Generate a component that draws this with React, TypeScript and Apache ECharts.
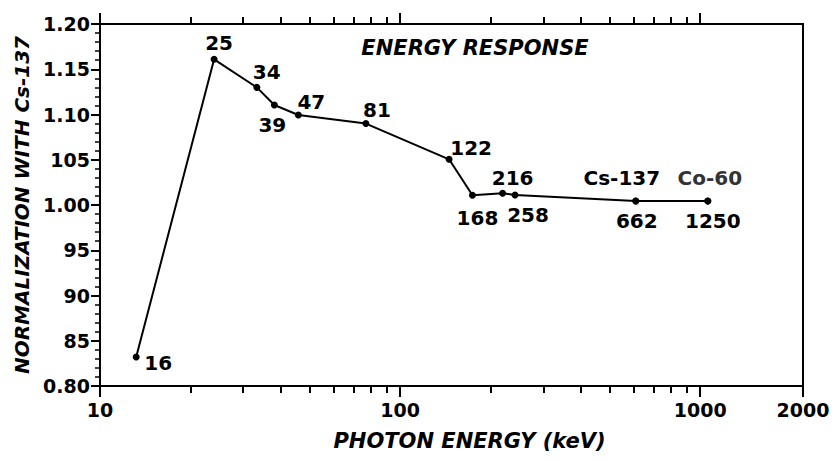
import React, { useEffect, useRef } from 'react';
import * as echarts from 'echarts';

// Photon energy positions (keV) as plotted, and normalized response
const energies = [13.2, 24.0, 33.3, 38.1, 45.8, 76.9, 145.6, 174.2, 219.5, 241.5, 610, 1060];
const responses = [0.832, 1.161, 1.13, 1.1105, 1.0995, 1.09, 1.0505, 1.0107, 1.0129, 1.011, 1.0044, 1.0044];
const pointLabels = ['16', '25', '34', '39', '47', '81', '122', '168', '216', '258', '662', '1250'];
const sourceLabels = ['', '', '', '', '', '', '', '', '', '', 'Cs-137', 'Co-60'];
const sourceColors = ['#000', '#000', '#000', '#000', '#000', '#000', '#000', '#000', '#000', '#000', '#000', '#333'];

const xMin = 10;
const xMax = 2200;
const xMajorTicks = [10, 100, 1000, 2200];
const xTickLabels = ['10', '100', '1000', '2000'];
const xMinorTicks = [20, 30, 40, 50, 60, 70, 80, 90, 200, 300, 400, 500, 600, 700, 800, 900];
const yTickLabels = ['0.80', '85', '90', '95', '1.00', '105', '1.10', '1.15', '1.20'];
const yMinorTicks = [
  0.81, 0.82, 0.83, 0.84, 0.86, 0.87, 0.88, 0.89, 0.91, 0.92, 0.93, 0.94, 0.96, 0.97, 0.98, 0.99,
  1.01, 1.02, 1.03, 1.04, 1.06, 1.07, 1.08, 1.09, 1.11, 1.12, 1.13, 1.14, 1.16, 1.17, 1.18, 1.19,
];

const titleText = 'ENERGY RESPONSE';
const xName = 'PHOTON ENERGY (keV)';
const yName = 'NORMALIZATION WITH Cs-137';

// label placement (style only)
const labelOffsets: [number, number][] = [
  [22, 6], [5, -16], [10, -15], [-2, 20], [13, -13], [11, -14],
  [22, -11], [5, 23], [10, -15], [13, 20], [1, 20], [5, 20],
];
const sourceOffsets: [number, number][] = [
  [0, 0], [0, 0], [0, 0], [0, 0], [0, 0], [0, 0], [0, 0], [0, 0], [0, 0], [0, 0], [-14, -23], [2, -23],
];

const FONT = '"DejaVu Sans", "Liberation Sans", Arial, sans-serif';
const BLACK = '#000';
const LBL = 20;

function nearestIdx(ticks: number[], v: number) {
  let best = 0;
  let bd = Infinity;
  ticks.forEach((t, i) => {
    const d = Math.abs(Math.log10(t) - Math.log10(v));
    if (d < bd) { bd = d; best = i; }
  });
  return best;
}

// tick-only axis in log10 space (same extent as the log data axis)
function tickAxis(position: 'top' | 'bottom', values: number[], length: number) {
  return {
    type: 'value', gridIndex: 0, position,
    min: Math.log10(xMin), max: Math.log10(xMax),
    splitLine: { show: false },
    axisLine: { show: false },
    axisLabel: { show: false },
    axisTick: {
      show: true, inside: false, length,
      customValues: values.map((v) => Math.log10(v)),
      lineStyle: { color: BLACK, width: 2 },
    },
  };
}

export default function App() {
  const ref = useRef<HTMLDivElement>(null);
  useEffect(() => {
    document.body.style.margin = '0';
    if (!ref.current) return;
    const chart = echarts.init(ref.current, undefined, { renderer: 'svg' });

    const option: any = {
      animation: false,
      backgroundColor: '#fff',
      grid: {
        left: 100, right: 32, top: 24, bottom: 75,
        show: true, borderColor: BLACK, borderWidth: 2, backgroundColor: 'transparent',
      },
      graphic: [
        {
          type: 'text', x: 475, y: 48,
          style: {
            text: titleText, fill: BLACK,
            fontFamily: FONT, fontWeight: 'bold', fontStyle: 'italic', fontSize: 21,
            align: 'center', verticalAlign: 'middle',
            textAlign: 'center', textVerticalAlign: 'middle',
          },
        },
      ],
      xAxis: [
        {
          type: 'log', logBase: 10, min: xMin, max: xMax, gridIndex: 0, position: 'bottom',
          splitLine: { show: false },
          axisLine: { show: true, lineStyle: { color: BLACK, width: 2 } },
          axisTick: { show: false },
          axisLabel: {
            show: true, customValues: xMajorTicks, margin: 14,
            formatter: (v: number) => xTickLabels[nearestIdx(xMajorTicks, v)],
            color: BLACK, fontFamily: FONT, fontWeight: 'bold', fontSize: 19,
          },
          name: xName, nameLocation: 'middle', nameGap: 44,
          nameTextStyle: {
            color: BLACK, fontFamily: FONT, fontWeight: 'bold', fontStyle: 'italic', fontSize: 21,
            padding: [0, 0, 0, 36],
          },
        },
        tickAxis('bottom', xMajorTicks, 11),
        tickAxis('bottom', xMinorTicks, 7),
        tickAxis('top', xMajorTicks.slice(0, 3), 11),
        tickAxis('top', xMinorTicks, 7),
      ],
      yAxis: [
        {
          type: 'value', min: 0.8, max: 1.2, interval: 0.05, position: 'left',
          splitLine: { show: false },
          axisLine: { show: true, lineStyle: { color: BLACK, width: 2 } },
          axisTick: { show: true, length: 9, lineStyle: { color: BLACK, width: 2 } },
          axisLabel: {
            margin: 10,
            formatter: (v: number) => yTickLabels[Math.round((v - 0.8) / 0.05)],
            color: BLACK, fontFamily: FONT, fontWeight: 'bold', fontSize: 19,
            padding: [0, 0, 6, 0],
          },
          name: yName, nameLocation: 'middle', nameGap: 68,
          nameTextStyle: {
            color: BLACK, fontFamily: FONT, fontWeight: 'bold', fontStyle: 'italic', fontSize: 20,
          },
        },
        {
          type: 'value', min: 0.8, max: 1.2, position: 'left',
          splitLine: { show: false },
          axisLine: { show: false },
          axisLabel: { show: false },
          axisTick: {
            show: true, length: 5, customValues: yMinorTicks,
            lineStyle: { color: BLACK, width: 1.5 },
          },
        },
      ],
      series: [
        {
          type: 'line', xAxisIndex: 0, yAxisIndex: 0,
          symbol: 'circle', symbolSize: 7,
          lineStyle: { color: BLACK, width: 2 },
          itemStyle: { color: BLACK, opacity: 1 },
          label: {
            show: true, position: 'inside',
            color: BLACK, fontFamily: FONT, fontWeight: 'bold', fontSize: LBL,
          },
          data: energies.map((e, i) => ({
            value: [e, responses[i]],
            label: { offset: labelOffsets[i], formatter: pointLabels[i] },
          })),
          z: 3,
        },
        {
          type: 'scatter', xAxisIndex: 0, yAxisIndex: 0,
          symbol: 'circle', symbolSize: 7,
          itemStyle: { color: BLACK, opacity: 1 },
          label: {
            show: true, position: 'inside', opacity: 1,
            fontFamily: FONT, fontWeight: 'bold', fontSize: LBL,
          },
          data: energies
            .map((e, i) => ({ e, i }))
            .filter(({ i }) => sourceLabels[i] !== '')
            .map(({ e, i }) => ({
              value: [e, responses[i]],
              label: { offset: sourceOffsets[i], formatter: sourceLabels[i], color: sourceColors[i] },
            })),
          z: 4,
        },
      ],
    };

    chart.setOption(option);
    return () => chart.dispose();
  }, []);

  return <div ref={ref} style={{ width: 835, height: 461, background: '#fff' }} />;
}
